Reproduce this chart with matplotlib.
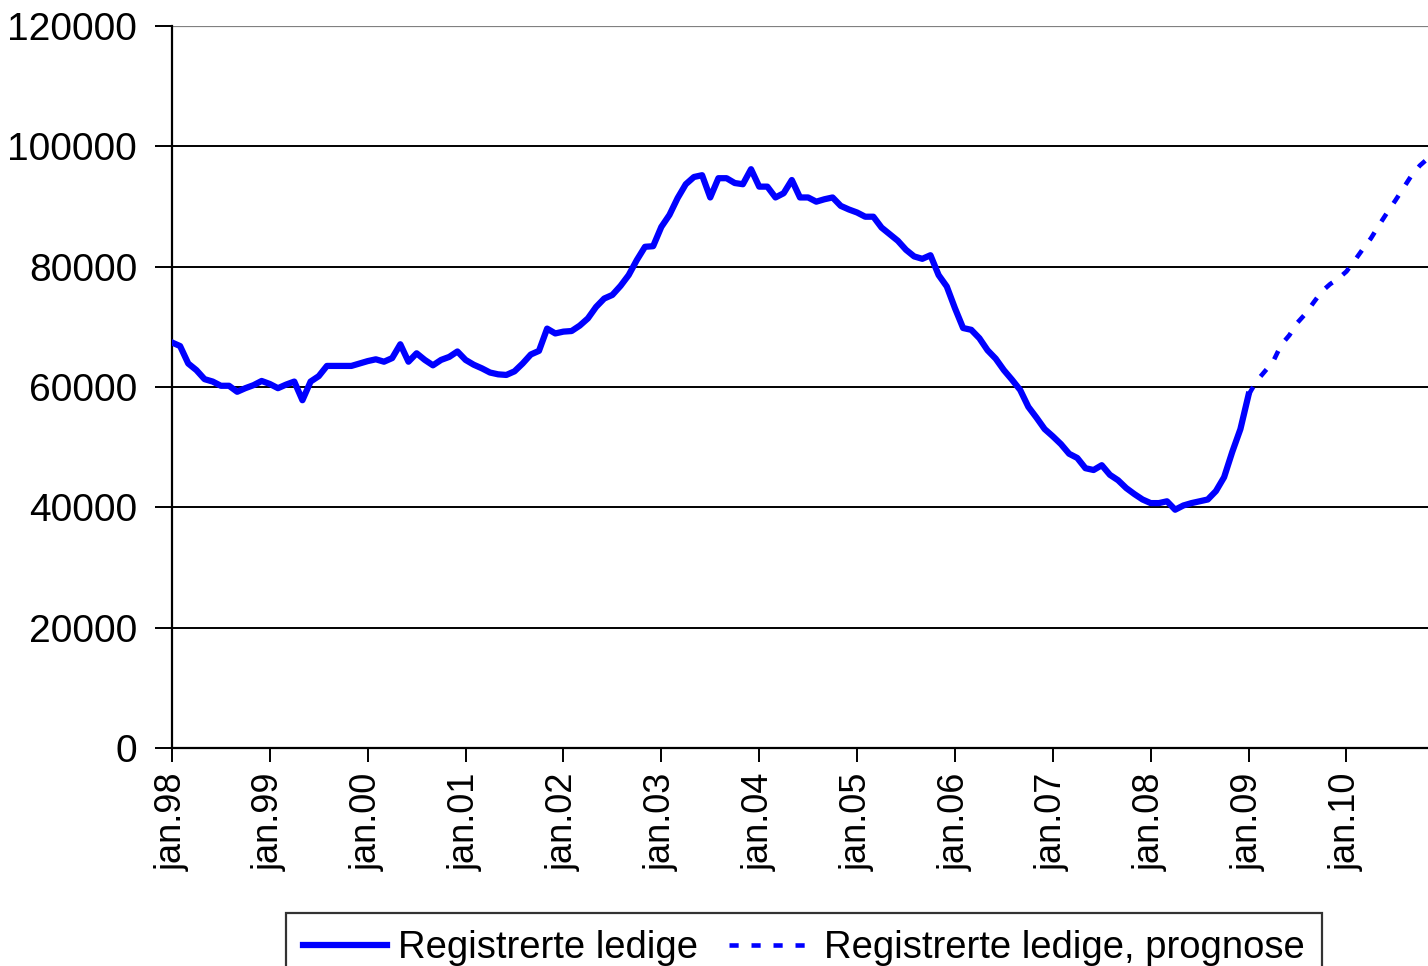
import matplotlib.pyplot as plt
import numpy as np

plt.rcParams['font.family'] = ['Liberation Sans', 'DejaVu Sans']

# Registrerte ledige, monthly from jan.98 to jan.09
registrerte = [
    67400, 66800, 63900, 62800, 61300, 60900, 60200, 60200, 59200, 59800, 60300, 61000,
    60500, 59800, 60400, 60900, 57800, 60900, 61800, 63500, 63500, 63500, 63500, 63900,
    64300, 64600, 64200, 64800, 67100, 64200, 65600, 64500, 63600, 64500, 65000, 65900,
    64500, 63700, 63100, 62400, 62100, 62000, 62600, 63900, 65400, 66000, 69700, 68900,
    69200, 69300, 70200, 71400, 73300, 74700, 75300, 76800, 78600, 81100, 83300, 83400,
    86600, 88600, 91400, 93700, 94900, 95200, 91500, 94700, 94700, 93900, 93700, 96200,
    93300, 93300, 91500, 92200, 94400, 91500, 91500, 90800, 91200, 91500, 90100, 89500,
    89000, 88300, 88300, 86500, 85400, 84300, 82800, 81700, 81300, 81900, 78600, 76700,
    73100, 69800, 69500, 68100, 66100, 64700, 62800, 61200, 59500, 56700, 54900, 53000,
    51800, 50500, 48900, 48200, 46500, 46200, 47000, 45400, 44500, 43200, 42200, 41300,
    40700, 40700, 41000, 39600, 40300, 40700, 41000, 41300, 42700, 45000, 49200, 53000,
    58700,
]

# Prognose, monthly from jan.09 to nov.10
prognose = [
    58700, 61000, 62600, 64200, 67000, 68600, 70700, 72200, 74100, 75900, 77100, 78000,
    79200, 81000, 82900, 84700, 86900, 89000, 91000, 93100, 95200, 96800, 98000,
]

ar_labels = ['jan.98', 'jan.99', 'jan.00', 'jan.01', 'jan.02', 'jan.03', 'jan.04',
             'jan.05', 'jan.06', 'jan.07', 'jan.08', 'jan.09', 'jan.10']


def main():
    fig = plt.figure(figsize=(14.28, 9.66), dpi=100)
    ax = fig.add_axes([0.1204, 0.2257, 0.8796, 0.7474])

    m_reg = np.arange(len(registrerte))
    m_prog = np.arange(len(prognose)) + len(registrerte) - 1

    ax.plot(m_reg, registrerte, color='#0000FF', lw=4.5,
            label='Registrerte ledige', zorder=3)
    ax.plot(m_prog, prognose, color='#0000FF', lw=3.3, linestyle=(0, (2, 2.8)),
            dash_capstyle='butt', label='Registrerte ledige, prognose', zorder=3)

    ax.set_ylim(0, 120000)
    ax.set_xlim(0, 154)
    ax.set_yticks(np.arange(0, 120001, 20000))
    ax.set_xticks(np.arange(len(ar_labels)) * 12)
    ax.set_xticklabels(ar_labels, rotation=90)

    # Horizontal grid lines in black, top one grey
    for v in range(20000, 120000, 20000):
        ax.axhline(v, color='black', lw=1.4, zorder=1)
    ax.axhline(120000, color='#808080', lw=1.6, zorder=1)

    for side in ['top', 'right']:
        ax.spines[side].set_visible(False)
    ax.spines['left'].set_linewidth(1.6)
    ax.spines['bottom'].set_linewidth(1.6)

    ax.tick_params(axis='both', width=1.4, length=10, direction='out')
    ax.tick_params(axis='x', labelsize=26, pad=8)
    ax.tick_params(axis='y', labelsize=28, length=12, pad=13)

    leg = fig.legend(loc='upper center', bbox_to_anchor=(0.563, 0.055), ncol=2,
                     fontsize=27.5, frameon=True, fancybox=False, handlelength=2.2,
                     handletextpad=0.3, columnspacing=0.8, borderpad=0.45,
                     borderaxespad=0)
    leg.get_frame().set_edgecolor('black')
    leg.get_frame().set_linewidth(1.6)

    fig.savefig('out.png', dpi=100)


if __name__ == "__main__":
    main()
